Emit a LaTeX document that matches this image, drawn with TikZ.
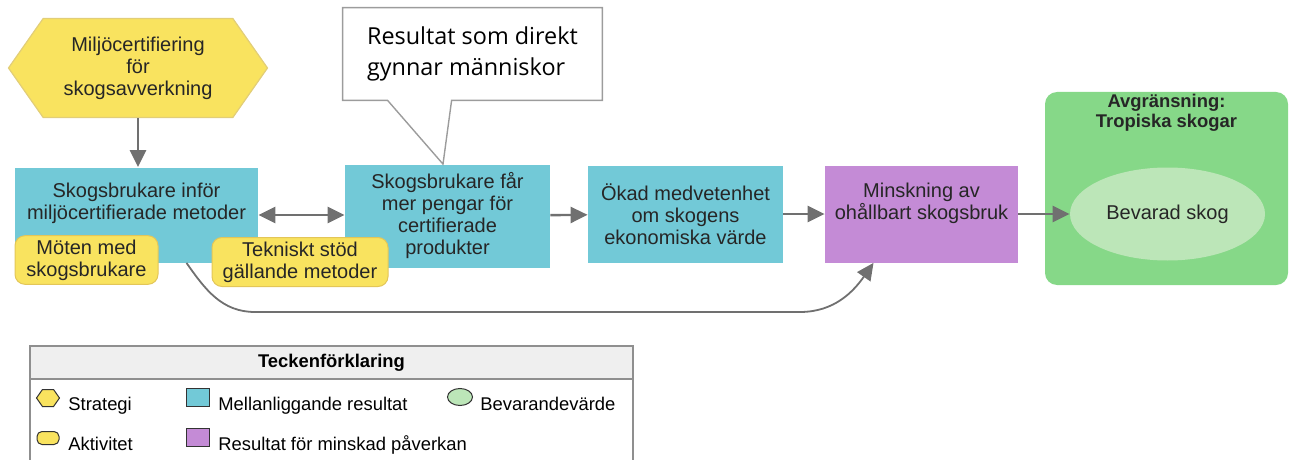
\documentclass[tikz,border=0pt]{standalone}
\usepackage{fontspec}
\setmainfont{Liberation Sans}
\newfontfamily\calloutfont{Open Sans}
\usetikzlibrary{arrows.meta, shapes.symbols, shapes.geometric}

\definecolor{resultteal}{HTML}{72C9D7}
\definecolor{impactpurple}{HTML}{C48BD6}
\definecolor{strategyyellow}{HTML}{F9E35F}
\definecolor{strategyedge}{HTML}{E2CE78}
\definecolor{activityedge}{HTML}{E3C658}
\definecolor{scopegreen}{HTML}{86D888}
\definecolor{forestgreen}{HTML}{BCE6B8}
\definecolor{flowgray}{HTML}{707070}
\definecolor{notegray}{HTML}{9C9C9C}
\definecolor{legendline}{HTML}{8F8F8F}
\definecolor{legendhead}{HTML}{EFEFEF}

\begin{document}
\begin{tikzpicture}[
    x=0.5pt, y=-0.5pt,
    boxtext/.style={align=center, font=\fontsize{10}{11}\selectfont, text=black!85},
    result/.style={rectangle, fill=resultteal, inner sep=2pt, boxtext},
    impact/.style={rectangle, fill=impactpurple, inner sep=2pt, boxtext},
    strategy/.style={signal, signal to=west and east, signal pointer angle=110,
                     fill=strategyyellow, draw=strategyedge, line width=0.6pt, boxtext},
    activity/.style={rectangle, rounded corners=5pt, fill=strategyyellow, draw=activityedge,
                     line width=0.5pt, inner sep=2pt, boxtext},
    flow/.style={-{Triangle[length=8.5pt, width=8pt]}, line width=1.2pt, flowgray},
    notebox/.style={draw=notegray, line width=0.7pt},
    legendtext/.style={anchor=base west, font=\fontsize{9.2}{10}\selectfont, inner sep=0pt},
    icon/.style={draw=black!80, line width=0.5pt, inner sep=0pt}
]
\useasboundingbox (0,0) rectangle (1290,460);

% main chain
\node[strategy, minimum width=129.5pt, minimum height=49.5pt] (strat) at (138,68)
    {Miljöcertifiering\\för\\skogsavverkning};
\node[result, minimum width=121.5pt, minimum height=47.5pt] (adopt) at (136.5,215) {};
\node[boxtext] (adopttext) at (136.5,203) {Skogsbrukare inför\\miljöcertifierade metoder};
\node[result, minimum width=102.5pt, minimum height=51.5pt] (money) at (447.5,216)
    {Skogsbrukare får\\mer pengar för\\certifierade\\produkter};
\node[result, minimum width=97.5pt, minimum height=48.5pt] (aware) at (685.5,214)
    {Ökad medvetenhet\\om skogens\\ekonomiska värde};
\node[impact, minimum width=96.5pt, minimum height=48.5pt] (reduce) at (921.5,214) {};
\node[boxtext] (reducetext) at (921.5,203) {Minskning av\\ohållbart skogsbruk};

% scope
\node[rectangle, rounded corners=6pt, fill=scopegreen, minimum width=121.5pt,
      minimum height=96.5pt] (scope) at (1166.5,188.5) {};
\node[boxtext, font=\bfseries\fontsize{9.2}{10}\selectfont] (scopetitle) at (1166.5,113)
    {Avgränsning:\\Tropiska skogar};
\node[ellipse, fill=forestgreen, minimum width=97.5pt, minimum height=46.5pt, boxtext]
    (forest) at (1167.5,214) {Bevarad skog};

% activities
\node[activity, minimum width=71.5pt, minimum height=22pt] (meet) at (86.5,260)
    {Möten med\\skogsbrukare};
\node[activity, minimum width=88pt, minimum height=24.5pt] (support) at (300,262)
    {Tekniskt stöd\\gällande metoder};

% callout
\node[font=\calloutfont\fontsize{11.7}{15.5}\selectfont, align=left, minimum width=129.5pt,
      minimum height=46pt, inner sep=0pt] (note) at (472.5,54) {Resultat som direkt\\gynnar människor};
\draw[notebox] ([xshift=54.5pt]note.south west) -- (note.south east) -- (note.north east)
    -- (note.north west) -- (note.south west) -- ([xshift=22.5pt]note.south west)
    -- ([xshift=-2.25pt]money.north) -- cycle;

% arrows
\draw[flow] (strat.south) -- (strat.south |- adopt.north);
\draw[flow, {Triangle[length=8.5pt, width=8pt]}-{Triangle[length=8.5pt, width=8pt]}]
    (adopt.east) -- (adopt.east -| money.west);
\foreach \from/\to in {money/aware, aware/reduce, reduce/forest}
    \draw[flow] (\from) -- (\to);

\coordinate (dipL) at (255,312);
\coordinate (dipR) at (800,312);
\draw[flow, line width=0.9pt] ([xshift=25pt]adopt.south) to[out=-55, in=180] (dipL)
    -- (dipR) to[out=0, in=-125] ([xshift=-24pt]reduce.south);

% legend
\fill[legendhead] (30,346) rectangle (633,379);
\draw[legendline, line width=0.6pt] (30,460) -- (30,346) -- (633,346) -- (633,460);
\draw[legendline, line width=0.6pt] (30,379) -- (633,379);
\node[font=\bfseries\fontsize{9.2}{10}\selectfont] (legtitle) at (331.5,363) {Teckenförklaring};

\node[icon, signal, signal to=west and east, signal pointer angle=110, fill=strategyyellow,
      minimum width=11.5pt, minimum height=8.5pt] (keystrat) at (48,398) {};
\node[legendtext] (keystrattext) at (68,410) {Strategi};
\node[icon, rectangle, fill=resultteal, minimum width=11.5pt, minimum height=9pt]
    (keyresult) at (198,397) {};
\node[legendtext] (keyresulttext) at (218,410) {Mellanliggande resultat};
\node[icon, ellipse, fill=forestgreen, minimum width=12.5pt, minimum height=8.5pt]
    (keyvalue) at (460,397) {};
\node[legendtext] (keyvaluetext) at (480,410) {Bevarandevärde};
\node[icon, rectangle, rounded corners=2.5pt, fill=strategyyellow, minimum width=11pt,
      minimum height=6.5pt] (keyact) at (48,438) {};
\node[legendtext] (keyacttext) at (68,450) {Aktivitet};
\node[icon, rectangle, fill=impactpurple, minimum width=11.5pt, minimum height=9pt]
    (keyimpact) at (198,437) {};
\node[legendtext] (keyimpacttext) at (218,450) {Resultat för minskad påverkan};
\end{tikzpicture}
\end{document}
